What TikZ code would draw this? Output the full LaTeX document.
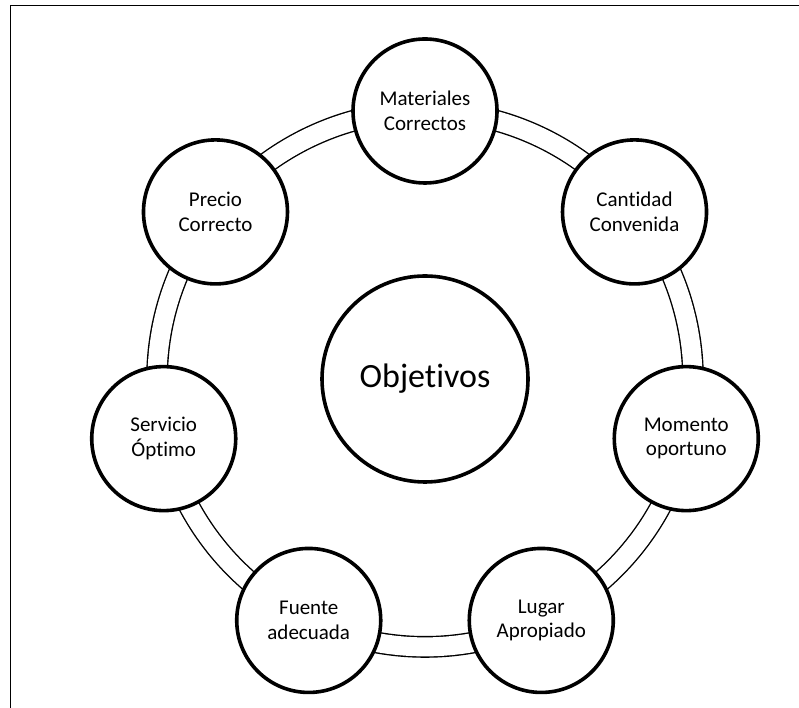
\documentclass[tikz,border=0pt]{standalone}
\usepackage{fontspec}
\setmainfont{Carlito}[Ligatures=CommonOff]
\usetikzlibrary{backgrounds,calc}

\tikzset{
  goal/.style={circle, draw=black, fill=white, line width=3.6pt,
    minimum size=144pt, inner sep=0pt, align=center,
    font=\fontsize{21}{24.5}\selectfont},
  hub/.style={goal, minimum size=206pt, font=\fontsize{34}{40}\selectfont},
  ring/.style={draw=black, line width=1.4pt, double=white, double distance=19pt},
  frameline/.style={draw=black, line width=1.8pt}
}

\begin{document}
\begin{tikzpicture}[x=1pt, y=1pt]
  \useasboundingbox (0,0) rectangle (799,708);
  \clip (0,0) rectangle (799,708);

  % outer frame, running off the right and bottom edges
  \draw[frameline] (10.5,-20) -- (10.5,702.5) -- (820,702.5);

  % hub and the seven satellites around it
  \coordinate (ctr) at (425,329);
  \node[hub] (obj) at (ctr) {Objetivos};
  \node[goal] (s0) at ($(ctr)+(90:268)$) {Materiales\\Correctos};
  \node[goal] (s1) at ($(ctr)+(38.571:268)$) {Cantidad\\Convenida};
  \node[goal] (s2) at ($(ctr)+(-12.857:268)$) {Momento\\oportuno};
  \node[goal] (s3) at ($(ctr)+(-64.286:268)$) {Lugar\\Apropiado};
  \node[goal] (s4) at ($(ctr)+(-115.714:268)$) {Fuente\\adecuada};
  \node[goal] (s5) at ($(ctr)+(-167.143:268)$) {Servicio\\Óptimo};
  \node[goal] (s6) at ($(ctr)+(141.429:268)$) {Precio\\Correcto};

  % double-lined ring linking neighbouring satellites
  \begin{scope}[on background layer]
    \foreach \a/\b in {s0/s1, s1/s2, s2/s3, s3/s4, s4/s5, s5/s6, s6/s0}
      \draw[ring] (\a.center) to[bend left=25.714, looseness=0.896] (\b.center);
  \end{scope}
\end{tikzpicture}
\end{document}
